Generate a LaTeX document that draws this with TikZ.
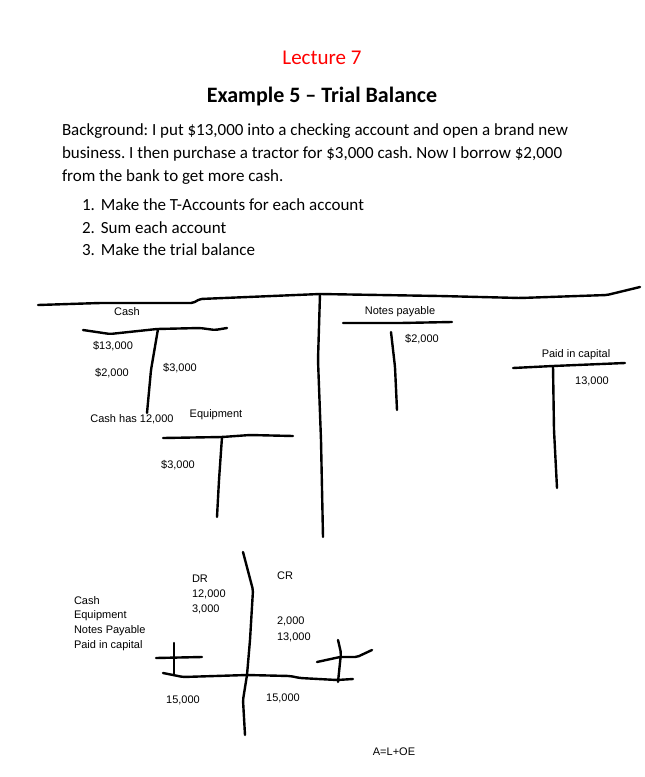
\documentclass[tikz,border=0pt]{standalone}
\usepackage{fontspec}
\setmainfont{Carlito}
\newfontfamily\arialfont{Liberation Sans}
\usetikzlibrary{positioning}
\frenchspacing

\begin{document}
\begin{tikzpicture}[x=1pt, y=-1pt,
  every node/.style={inner sep=0pt, outer sep=0pt},
  body/.style={anchor=west, font=\fontsize{17}{21}\selectfont},
  hand/.style={line width=2.4pt, line cap=round, line join=round, rounded corners=2pt},
  lbl/.style={font=\arialfont\fontsize{11}{13}\selectfont}]
\useasboundingbox (0,0) rectangle (645,777);

% heading
\node (lect) at (322,58) {\fontsize{21}{25}\selectfont\color{red}Lecture 7};
\node (title) at (322,97) {\fontsize{22}{26}\selectfont\bfseries Example 5 -- Trial Balance};

\node[body] (bg1) at (62,131) {Background: I put \$13,000 into a checking account and open a brand new};
\node[body] (bg2) at (62,154) {business. I then purchase a tractor for \$3,000 cash. Now I borrow \$2,000};
\node[body] (bg3) at (62,177) {from the bank to get more cash.};

\node[body] (it1) at (82,205) {1.\hspace{6pt}Make the T-Accounts for each account};
\node[body] (it2) at (82,228) {2.\hspace{6pt}Sum each account};
\node[body] (it3) at (82,250) {3.\hspace{6pt}Make the trial balance};

% page split
\draw[hand] (38,305) -- (100,303) -- (193,303) -- (200,299) -- (320,294) -- (440,296) -- (520,298) -- (607,295) -- (640,287);
\draw[hand] (320,294) -- (318,360) -- (321,440) -- (323,537);

% cash account
\node[lbl] (cash) at (127,312) {Cash};
\draw[hand] (83,330) -- (110,334) -- (157,329) -- (200,328) -- (215,330) -- (227,328);
\draw[hand] (158,329) -- (151,370) -- (147,413);
\node[lbl] (c13) at (113,346) {\$13,000};
\node[lbl] (c2) at (112,373) {\$2,000};
\node[lbl] (c3) at (180,368) {\$3,000};
\node[lbl] (chas) at (132,419) {Cash has 12,000};

% equipment
\node[lbl] (equip) at (216,415) {Equipment};
\draw[hand] (163,438) -- (222,437) -- (250,435) -- (293,436);
\draw[hand] (222,437) -- (219,480) -- (217,517);
\node[lbl] (e3) at (178,465) {\$3,000};

% notes payable
\node[lbl] (notes) at (400,312) {Notes payable};
\draw[hand] (343,323) -- (400,323) -- (452,322);
\draw[hand] (391,332) -- (395,367) -- (397,410);
\node[lbl] (n2) at (422,339) {\$2,000};

% paid in capital
\node[lbl] (pic) at (576,355) {Paid in capital};
\draw[hand] (513,368) -- (553,366) -- (625,363);
\draw[hand] (553,366) -- (554,430) -- (557,488);
\node[lbl] (p13) at (592,381) {13,000};

% trial balance
\draw[hand] (243,552) -- (253,590) -- (250,640) -- (247,675) -- (243,700) -- (245,735);
\draw[hand] (163,673) -- (183,677) -- (247,675) -- (290,676) -- (300,678) -- (337,680) -- (353,679);
\draw[hand] (156,658) -- (202,657);
\draw[hand] (174,643) -- (174,675);
\draw[hand] (338,640) -- (341,653) -- (338,682);
\draw[hand] (317,662) -- (340,657) -- (357,657) -- (372,650);

\node[lbl, anchor=west] (dr) at (192,579) {DR};
\node[lbl, anchor=west] (d12) at (192,594) {12,000};
\node[lbl, anchor=west] (d3) at (192,609) {3,000};
\node[lbl] (cr) at (285,576) {CR};
\node[lbl, anchor=west] (k2) at (277,621) {2,000};
\node[lbl, anchor=west] (k13) at (277,637) {13,000};

\node[lbl, anchor=west] (tcash) at (74,601) {Cash};
\node[lbl, anchor=west] (tequip) at (74,616) {Equipment};
\node[lbl, anchor=west] (tnotes) at (74,631) {Notes Payable};
\node[lbl, anchor=west] (tpic) at (74,646) {Paid in capital};

\node[lbl] (sumdr) at (183,700) {15,000};
\node[lbl] (sumcr) at (283,698) {15,000};
\node[lbl] (eq) at (394,752) {A=L+OE};
\end{tikzpicture}
\end{document}
